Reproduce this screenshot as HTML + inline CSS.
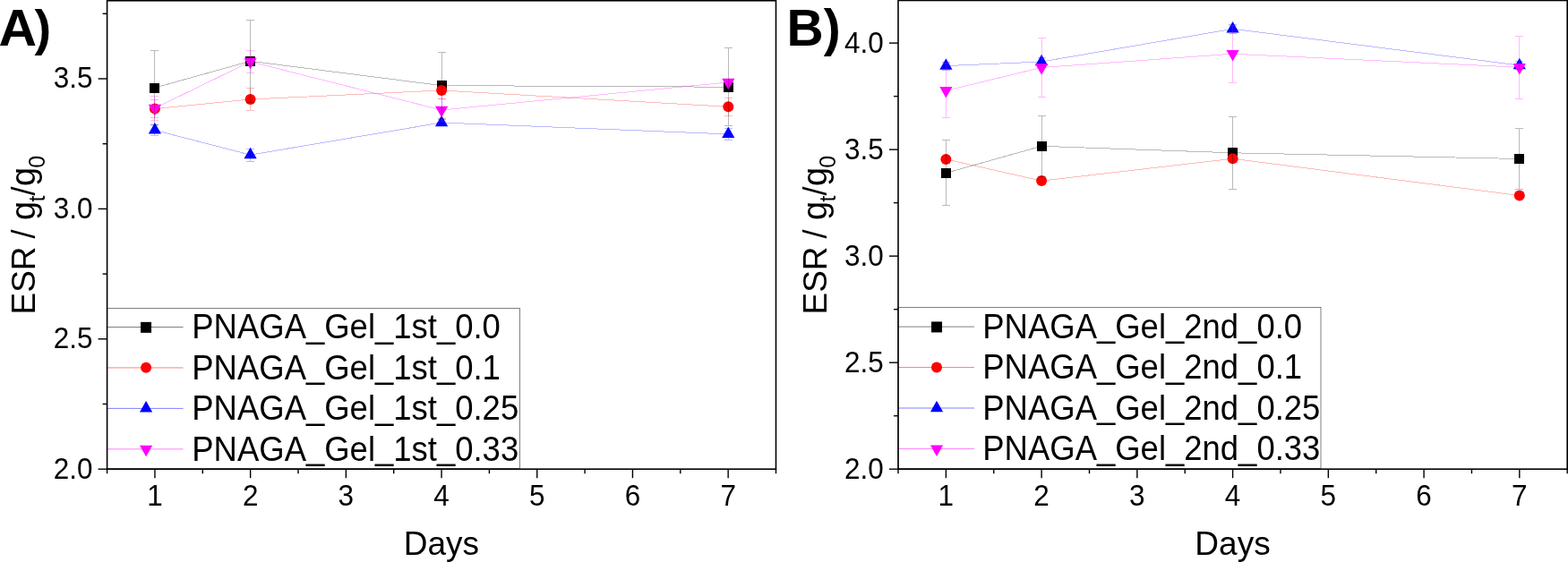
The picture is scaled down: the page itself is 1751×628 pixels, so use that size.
<!DOCTYPE html>
<html><head><meta charset="utf-8"><title>ESR</title>
<style>
html,body{margin:0;padding:0;background:#fff;}
body{width:1751px;height:628px;overflow:hidden;}
svg{display:block;font-family:"Liberation Sans", sans-serif;fill:#000;}
</style></head><body>
<svg width="1751" height="628" viewBox="0 0 1751 628">
<rect width="1751" height="628" fill="#fff"/>
<polyline points="172.9,98.1 279.6,68.3 493.1,95.6 813.3,97.2" fill="none" stroke="#000" stroke-width="1" stroke-opacity="0.27" shape-rendering="crispEdges"/>
<rect x="167.0" y="93.0" width="11" height="11" fill="#000"/>
<rect x="274.0" y="63.0" width="11" height="11" fill="#000"/>
<rect x="488.0" y="90.0" width="11" height="11" fill="#000"/>
<rect x="808.0" y="92.0" width="11" height="11" fill="#000"/>
<polyline points="172.9,121.6 279.6,111.0 493.1,101.0 813.3,119.3" fill="none" stroke="#f00" stroke-width="1" stroke-opacity="0.27" shape-rendering="crispEdges"/>
<circle cx="172.9" cy="121.6" r="6.0" fill="#f00"/>
<circle cx="279.6" cy="111.0" r="6.0" fill="#f00"/>
<circle cx="493.1" cy="101.0" r="6.0" fill="#f00"/>
<circle cx="813.3" cy="119.3" r="6.0" fill="#f00"/>
<polyline points="172.9,145.4 279.6,173.1 493.1,137.0 813.3,149.9" fill="none" stroke="#00f" stroke-width="1" stroke-opacity="0.27" shape-rendering="crispEdges"/>
<path d="M172.9 137.1L180.0 149.6H165.8Z" fill="#00f"/>
<path d="M279.6 164.8L286.7 177.3H272.5Z" fill="#00f"/>
<path d="M493.1 128.7L500.2 141.2H486.0Z" fill="#00f"/>
<path d="M813.3 141.6L820.4 154.1H806.2Z" fill="#00f"/>
<polyline points="172.9,120.9 279.6,68.9 493.1,123.0 813.3,92.0" fill="none" stroke="#f0f" stroke-width="1" stroke-opacity="0.27" shape-rendering="crispEdges"/>
<path d="M172.9 129.2L180.0 116.7H165.8Z" fill="#f0f"/>
<path d="M279.6 77.2L286.7 64.7H272.5Z" fill="#f0f"/>
<path d="M493.1 131.3L500.2 118.8H486.0Z" fill="#f0f"/>
<path d="M813.3 100.3L820.4 87.8H806.2Z" fill="#f0f"/>
<path d="M172.5 56.5V139.5M168.0 56.5h9M168.0 139.5h9" fill="none" stroke="#000" stroke-width="1" stroke-opacity="0.27" shape-rendering="crispEdges"/>
<path d="M279.5 22.5V114.5M275.0 22.5h9M275.0 114.5h9" fill="none" stroke="#000" stroke-width="1" stroke-opacity="0.27" shape-rendering="crispEdges"/>
<path d="M493.5 58.5V132.5M489.0 58.5h9M489.0 132.5h9" fill="none" stroke="#000" stroke-width="1" stroke-opacity="0.27" shape-rendering="crispEdges"/>
<path d="M813.5 53.5V140.5M809.0 53.5h9M809.0 140.5h9" fill="none" stroke="#000" stroke-width="1" stroke-opacity="0.27" shape-rendering="crispEdges"/>
<path d="M172.5 111.5V131.5M168.0 111.5h9M168.0 131.5h9" fill="none" stroke="#f00" stroke-width="1" stroke-opacity="0.27" shape-rendering="crispEdges"/>
<path d="M279.5 98.5V123.5M275.0 98.5h9M275.0 123.5h9" fill="none" stroke="#f00" stroke-width="1" stroke-opacity="0.27" shape-rendering="crispEdges"/>
<path d="M493.5 91.5V110.5M489.0 91.5h9M489.0 110.5h9" fill="none" stroke="#f00" stroke-width="1" stroke-opacity="0.27" shape-rendering="crispEdges"/>
<path d="M813.5 109.5V129.5M809.0 109.5h9M809.0 129.5h9" fill="none" stroke="#f00" stroke-width="1" stroke-opacity="0.27" shape-rendering="crispEdges"/>
<path d="M172.5 139.5V151.5M168.0 139.5h9M168.0 151.5h9" fill="none" stroke="#00f" stroke-width="1" stroke-opacity="0.27" shape-rendering="crispEdges"/>
<path d="M279.5 166.5V180.5M275.0 166.5h9M275.0 180.5h9" fill="none" stroke="#00f" stroke-width="1" stroke-opacity="0.27" shape-rendering="crispEdges"/>
<path d="M493.5 133.5V140.5M489.0 133.5h9M489.0 140.5h9" fill="none" stroke="#00f" stroke-width="1" stroke-opacity="0.27" shape-rendering="crispEdges"/>
<path d="M813.5 143.5V156.5M809.0 143.5h9M809.0 156.5h9" fill="none" stroke="#00f" stroke-width="1" stroke-opacity="0.27" shape-rendering="crispEdges"/>
<path d="M172.5 107.5V134.5M168.0 107.5h9M168.0 134.5h9" fill="none" stroke="#f0f" stroke-width="1" stroke-opacity="0.27" shape-rendering="crispEdges"/>
<path d="M279.5 56.5V81.5M275.0 56.5h9M275.0 81.5h9" fill="none" stroke="#f0f" stroke-width="1" stroke-opacity="0.27" shape-rendering="crispEdges"/>
<path d="M493.5 110.5V135.5M489.0 110.5h9M489.0 135.5h9" fill="none" stroke="#f0f" stroke-width="1" stroke-opacity="0.27" shape-rendering="crispEdges"/>
<path d="M813.5 88.5V95.5M809.0 88.5h9M809.0 95.5h9" fill="none" stroke="#f0f" stroke-width="1" stroke-opacity="0.27" shape-rendering="crispEdges"/>
<rect x="119.6" y="344.5" width="460.9" height="179.0" fill="#fff" stroke="#000" stroke-width="0.5"/>
<line x1="119.6" x2="204.6" y1="365.50" y2="365.50" stroke="#000" stroke-width="0.5"/>
<rect x="157.05" y="359.85" width="12" height="12" fill="#000"/>
<text transform="translate(214.3,378.00) scale(1.002,1.07)" font-size="36.4">PNAGA<tspan dy="-1.1">_</tspan><tspan dy="1.1">Gel</tspan><tspan dy="-1.1">_</tspan><tspan dy="1.1">1st</tspan><tspan dy="-1.1">_</tspan><tspan dy="1.1">0.0</tspan></text>
<line x1="119.6" x2="204.6" y1="410.95" y2="410.95" stroke="#f00" stroke-width="0.5"/>
<circle cx="163.1" cy="410.8" r="6.0" fill="#f00"/>
<text transform="translate(214.3,423.53) scale(1.002,1.07)" font-size="36.4">PNAGA<tspan dy="-1.1">_</tspan><tspan dy="1.1">Gel</tspan><tspan dy="-1.1">_</tspan><tspan dy="1.1">1st</tspan><tspan dy="-1.1">_</tspan><tspan dy="1.1">0.1</tspan></text>
<line x1="119.6" x2="204.6" y1="456.40" y2="456.40" stroke="#00f" stroke-width="0.5"/>
<path d="M163.1 448.1L170.2 460.6H156.0Z" fill="#00f"/>
<text transform="translate(214.3,469.06) scale(1.002,1.07)" font-size="36.4">PNAGA<tspan dy="-1.1">_</tspan><tspan dy="1.1">Gel</tspan><tspan dy="-1.1">_</tspan><tspan dy="1.1">1st</tspan><tspan dy="-1.1">_</tspan><tspan dy="1.1">0.25</tspan></text>
<line x1="119.6" x2="204.6" y1="501.85" y2="501.85" stroke="#f0f" stroke-width="0.5"/>
<path d="M163.1 510.3L170.2 497.8H156.0Z" fill="#f0f"/>
<text transform="translate(214.3,514.59) scale(1.002,1.07)" font-size="36.4">PNAGA<tspan dy="-1.1">_</tspan><tspan dy="1.1">Gel</tspan><tspan dy="-1.1">_</tspan><tspan dy="1.1">1st</tspan><tspan dy="-1.1">_</tspan><tspan dy="1.1">0.33</tspan></text>
<rect x="119.60" y="0.75" width="746.90" height="523.45" fill="none" stroke="#000" stroke-width="1.6"/>
<line x1="172.95" x2="172.95" y1="524.2" y2="534.2" stroke="#000" stroke-width="1.4"/>
<text transform="translate(172.95,565.4) scale(1,1.035)" font-size="31.5" text-anchor="middle">1</text>
<line x1="279.65" x2="279.65" y1="524.2" y2="534.2" stroke="#000" stroke-width="1.4"/>
<text transform="translate(279.65,565.4) scale(1,1.035)" font-size="31.5" text-anchor="middle">2</text>
<line x1="386.35" x2="386.35" y1="524.2" y2="534.2" stroke="#000" stroke-width="1.4"/>
<text transform="translate(386.35,565.4) scale(1,1.035)" font-size="31.5" text-anchor="middle">3</text>
<line x1="493.05" x2="493.05" y1="524.2" y2="534.2" stroke="#000" stroke-width="1.4"/>
<text transform="translate(493.05,565.4) scale(1,1.035)" font-size="31.5" text-anchor="middle">4</text>
<line x1="599.75" x2="599.75" y1="524.2" y2="534.2" stroke="#000" stroke-width="1.4"/>
<text transform="translate(599.75,565.4) scale(1,1.035)" font-size="31.5" text-anchor="middle">5</text>
<line x1="706.45" x2="706.45" y1="524.2" y2="534.2" stroke="#000" stroke-width="1.4"/>
<text transform="translate(706.45,565.4) scale(1,1.035)" font-size="31.5" text-anchor="middle">6</text>
<line x1="813.15" x2="813.15" y1="524.2" y2="534.2" stroke="#000" stroke-width="1.4"/>
<text transform="translate(813.15,565.4) scale(1,1.035)" font-size="31.5" text-anchor="middle">7</text>
<line x1="119.60" x2="119.60" y1="524.2" y2="529.2" stroke="#000" stroke-width="1.4"/>
<line x1="226.30" x2="226.30" y1="524.2" y2="529.2" stroke="#000" stroke-width="1.4"/>
<line x1="333.00" x2="333.00" y1="524.2" y2="529.2" stroke="#000" stroke-width="1.4"/>
<line x1="439.70" x2="439.70" y1="524.2" y2="529.2" stroke="#000" stroke-width="1.4"/>
<line x1="546.40" x2="546.40" y1="524.2" y2="529.2" stroke="#000" stroke-width="1.4"/>
<line x1="653.10" x2="653.10" y1="524.2" y2="529.2" stroke="#000" stroke-width="1.4"/>
<line x1="759.80" x2="759.80" y1="524.2" y2="529.2" stroke="#000" stroke-width="1.4"/>
<line x1="866.50" x2="866.50" y1="524.2" y2="529.2" stroke="#000" stroke-width="1.4"/>
<line x1="109.60" x2="119.60" y1="524.20" y2="524.20" stroke="#000" stroke-width="1.4"/>
<text transform="translate(103.50,534.60) scale(1,1.035)" font-size="31.5" text-anchor="end">2.0</text>
<line x1="109.60" x2="119.60" y1="378.80" y2="378.80" stroke="#000" stroke-width="1.4"/>
<text transform="translate(103.50,389.20) scale(1,1.035)" font-size="31.5" text-anchor="end">2.5</text>
<line x1="109.60" x2="119.60" y1="233.39" y2="233.39" stroke="#000" stroke-width="1.4"/>
<text transform="translate(103.50,243.79) scale(1,1.035)" font-size="31.5" text-anchor="end">3.0</text>
<line x1="109.60" x2="119.60" y1="87.99" y2="87.99" stroke="#000" stroke-width="1.4"/>
<text transform="translate(103.50,98.39) scale(1,1.035)" font-size="31.5" text-anchor="end">3.5</text>
<line x1="114.60" x2="119.60" y1="451.50" y2="451.50" stroke="#000" stroke-width="1.4"/>
<line x1="114.60" x2="119.60" y1="306.10" y2="306.10" stroke="#000" stroke-width="1.4"/>
<line x1="114.60" x2="119.60" y1="160.69" y2="160.69" stroke="#000" stroke-width="1.4"/>
<line x1="114.60" x2="119.60" y1="15.29" y2="15.29" stroke="#000" stroke-width="1.4"/>
<text x="492.9" y="619.7" font-size="37" text-anchor="middle">Days</text>
<text transform="translate(39.1,351.5) rotate(-90)" font-size="36"><tspan x="0" font-size="37">ESR</tspan><tspan x="84.9">/</tspan><tspan x="105.5" font-size="38">g</tspan><tspan x="125.9" font-size="25" dy="10.5">t</tspan><tspan x="132.9" dy="-10.5">/</tspan><tspan x="143.4" font-size="38">g</tspan><tspan x="163.8" font-size="25" dy="10.5">0</tspan></text>
<text transform="translate(-1.4,50.6) scale(1.035,1)" font-size="57" font-weight="bold">A</text>
<text x="38.6" y="49.8" font-size="56" font-weight="bold">)</text>
<polyline points="1056.4,193.3 1163.1,163.3 1376.6,170.8 1696.8,177.5" fill="none" stroke="#000" stroke-width="1" stroke-opacity="0.27" shape-rendering="crispEdges"/>
<rect x="1051.0" y="188.0" width="11" height="11" fill="#000"/>
<rect x="1158.0" y="158.0" width="11" height="11" fill="#000"/>
<rect x="1371.0" y="165.0" width="11" height="11" fill="#000"/>
<rect x="1691.0" y="172.0" width="11" height="11" fill="#000"/>
<polyline points="1056.4,177.9 1163.1,202.1 1376.6,177.3 1696.8,218.5" fill="none" stroke="#f00" stroke-width="1" stroke-opacity="0.27" shape-rendering="crispEdges"/>
<circle cx="1056.4" cy="177.9" r="6.0" fill="#f00"/>
<circle cx="1163.1" cy="202.1" r="6.0" fill="#f00"/>
<circle cx="1376.6" cy="177.3" r="6.0" fill="#f00"/>
<circle cx="1696.8" cy="218.5" r="6.0" fill="#f00"/>
<polyline points="1056.4,73.6 1163.1,69.0 1376.6,32.3 1696.8,73.0" fill="none" stroke="#00f" stroke-width="1" stroke-opacity="0.27" shape-rendering="crispEdges"/>
<path d="M1056.4 65.3L1063.5 77.8H1049.3Z" fill="#00f"/>
<path d="M1163.1 60.7L1170.2 73.2H1156.0Z" fill="#00f"/>
<path d="M1376.6 24.0L1383.7 36.5H1369.5Z" fill="#00f"/>
<path d="M1696.8 64.7L1703.9 77.2H1689.7Z" fill="#00f"/>
<polyline points="1056.4,101.3 1163.1,75.5 1376.6,60.2 1696.8,75.2" fill="none" stroke="#f0f" stroke-width="1" stroke-opacity="0.27" shape-rendering="crispEdges"/>
<path d="M1056.4 109.6L1063.5 97.1H1049.3Z" fill="#f0f"/>
<path d="M1163.1 83.8L1170.2 71.3H1156.0Z" fill="#f0f"/>
<path d="M1376.6 68.5L1383.7 56.0H1369.5Z" fill="#f0f"/>
<path d="M1696.8 83.5L1703.9 71.0H1689.7Z" fill="#f0f"/>
<path d="M1056.5 156.5V229.5M1052.0 156.5h9M1052.0 229.5h9" fill="none" stroke="#000" stroke-width="1" stroke-opacity="0.27" shape-rendering="crispEdges"/>
<path d="M1163.5 129.5V197.5M1159.0 129.5h9M1159.0 197.5h9" fill="none" stroke="#000" stroke-width="1" stroke-opacity="0.27" shape-rendering="crispEdges"/>
<path d="M1376.5 130.5V211.5M1372.0 130.5h9M1372.0 211.5h9" fill="none" stroke="#000" stroke-width="1" stroke-opacity="0.27" shape-rendering="crispEdges"/>
<path d="M1696.5 143.5V211.5M1692.0 143.5h9M1692.0 211.5h9" fill="none" stroke="#000" stroke-width="1" stroke-opacity="0.27" shape-rendering="crispEdges"/>
<path d="M1056.5 69.5V78.5M1052.0 69.5h9M1052.0 78.5h9" fill="none" stroke="#00f" stroke-width="1" stroke-opacity="0.27" shape-rendering="crispEdges"/>
<path d="M1163.5 64.5V73.5M1159.0 64.5h9M1159.0 73.5h9" fill="none" stroke="#00f" stroke-width="1" stroke-opacity="0.27" shape-rendering="crispEdges"/>
<path d="M1376.5 27.5V37.5M1372.0 27.5h9M1372.0 37.5h9" fill="none" stroke="#00f" stroke-width="1" stroke-opacity="0.27" shape-rendering="crispEdges"/>
<path d="M1696.5 68.5V77.5M1692.0 68.5h9M1692.0 77.5h9" fill="none" stroke="#00f" stroke-width="1" stroke-opacity="0.27" shape-rendering="crispEdges"/>
<path d="M1056.5 70.5V131.5M1052.0 70.5h9M1052.0 131.5h9" fill="none" stroke="#f0f" stroke-width="1" stroke-opacity="0.27" shape-rendering="crispEdges"/>
<path d="M1163.5 42.5V108.5M1159.0 42.5h9M1159.0 108.5h9" fill="none" stroke="#f0f" stroke-width="1" stroke-opacity="0.27" shape-rendering="crispEdges"/>
<path d="M1376.5 28.5V92.5M1372.0 28.5h9M1372.0 92.5h9" fill="none" stroke="#f0f" stroke-width="1" stroke-opacity="0.27" shape-rendering="crispEdges"/>
<path d="M1696.5 40.5V110.5M1692.0 40.5h9M1692.0 110.5h9" fill="none" stroke="#f0f" stroke-width="1" stroke-opacity="0.27" shape-rendering="crispEdges"/>
<rect x="1003.0" y="343.6" width="472.0" height="179.9" fill="#fff" stroke="#000" stroke-width="0.5"/>
<line x1="1003.0" x2="1088.0" y1="365.10" y2="365.10" stroke="#000" stroke-width="0.5"/>
<rect x="1040.05" y="359.45" width="12" height="12" fill="#000"/>
<text transform="translate(1097.3,377.60) scale(1.002,1.07)" font-size="36.4">PNAGA<tspan dy="-1.1">_</tspan><tspan dy="1.1">Gel</tspan><tspan dy="-1.1">_</tspan><tspan dy="1.1">2nd</tspan><tspan dy="-1.1">_</tspan><tspan dy="1.1">0.0</tspan></text>
<line x1="1003.0" x2="1088.0" y1="410.55" y2="410.55" stroke="#f00" stroke-width="0.5"/>
<circle cx="1046.0" cy="410.4" r="6.0" fill="#f00"/>
<text transform="translate(1097.3,423.07) scale(1.002,1.07)" font-size="36.4">PNAGA<tspan dy="-1.1">_</tspan><tspan dy="1.1">Gel</tspan><tspan dy="-1.1">_</tspan><tspan dy="1.1">2nd</tspan><tspan dy="-1.1">_</tspan><tspan dy="1.1">0.1</tspan></text>
<line x1="1003.0" x2="1088.0" y1="456.00" y2="456.00" stroke="#00f" stroke-width="0.5"/>
<path d="M1046.0 447.7L1053.1 460.2H1039.0Z" fill="#00f"/>
<text transform="translate(1097.3,468.54) scale(1.002,1.07)" font-size="36.4">PNAGA<tspan dy="-1.1">_</tspan><tspan dy="1.1">Gel</tspan><tspan dy="-1.1">_</tspan><tspan dy="1.1">2nd</tspan><tspan dy="-1.1">_</tspan><tspan dy="1.1">0.25</tspan></text>
<line x1="1003.0" x2="1088.0" y1="501.45" y2="501.45" stroke="#f0f" stroke-width="0.5"/>
<path d="M1046.0 509.9L1053.1 497.4H1039.0Z" fill="#f0f"/>
<text transform="translate(1097.3,514.01) scale(1.002,1.07)" font-size="36.4">PNAGA<tspan dy="-1.1">_</tspan><tspan dy="1.1">Gel</tspan><tspan dy="-1.1">_</tspan><tspan dy="1.1">2nd</tspan><tspan dy="-1.1">_</tspan><tspan dy="1.1">0.33</tspan></text>
<rect x="1003.00" y="0.50" width="747.20" height="523.70" fill="none" stroke="#000" stroke-width="1.6"/>
<line x1="1056.37" x2="1056.37" y1="524.2" y2="534.2" stroke="#000" stroke-width="1.4"/>
<text transform="translate(1056.37,565.4) scale(1,1.035)" font-size="31.5" text-anchor="middle">1</text>
<line x1="1163.11" x2="1163.11" y1="524.2" y2="534.2" stroke="#000" stroke-width="1.4"/>
<text transform="translate(1163.11,565.4) scale(1,1.035)" font-size="31.5" text-anchor="middle">2</text>
<line x1="1269.86" x2="1269.86" y1="524.2" y2="534.2" stroke="#000" stroke-width="1.4"/>
<text transform="translate(1269.86,565.4) scale(1,1.035)" font-size="31.5" text-anchor="middle">3</text>
<line x1="1376.60" x2="1376.60" y1="524.2" y2="534.2" stroke="#000" stroke-width="1.4"/>
<text transform="translate(1376.60,565.4) scale(1,1.035)" font-size="31.5" text-anchor="middle">4</text>
<line x1="1483.34" x2="1483.34" y1="524.2" y2="534.2" stroke="#000" stroke-width="1.4"/>
<text transform="translate(1483.34,565.4) scale(1,1.035)" font-size="31.5" text-anchor="middle">5</text>
<line x1="1590.09" x2="1590.09" y1="524.2" y2="534.2" stroke="#000" stroke-width="1.4"/>
<text transform="translate(1590.09,565.4) scale(1,1.035)" font-size="31.5" text-anchor="middle">6</text>
<line x1="1696.83" x2="1696.83" y1="524.2" y2="534.2" stroke="#000" stroke-width="1.4"/>
<text transform="translate(1696.83,565.4) scale(1,1.035)" font-size="31.5" text-anchor="middle">7</text>
<line x1="1003.00" x2="1003.00" y1="524.2" y2="529.2" stroke="#000" stroke-width="1.4"/>
<line x1="1109.74" x2="1109.74" y1="524.2" y2="529.2" stroke="#000" stroke-width="1.4"/>
<line x1="1216.49" x2="1216.49" y1="524.2" y2="529.2" stroke="#000" stroke-width="1.4"/>
<line x1="1323.23" x2="1323.23" y1="524.2" y2="529.2" stroke="#000" stroke-width="1.4"/>
<line x1="1429.97" x2="1429.97" y1="524.2" y2="529.2" stroke="#000" stroke-width="1.4"/>
<line x1="1536.71" x2="1536.71" y1="524.2" y2="529.2" stroke="#000" stroke-width="1.4"/>
<line x1="1643.46" x2="1643.46" y1="524.2" y2="529.2" stroke="#000" stroke-width="1.4"/>
<line x1="1750.20" x2="1750.20" y1="524.2" y2="529.2" stroke="#000" stroke-width="1.4"/>
<line x1="993.00" x2="1003.00" y1="524.20" y2="524.20" stroke="#000" stroke-width="1.4"/>
<text transform="translate(986.90,534.60) scale(1,1.035)" font-size="31.5" text-anchor="end">2.0</text>
<line x1="993.00" x2="1003.00" y1="405.18" y2="405.18" stroke="#000" stroke-width="1.4"/>
<text transform="translate(986.90,415.58) scale(1,1.035)" font-size="31.5" text-anchor="end">2.5</text>
<line x1="993.00" x2="1003.00" y1="286.15" y2="286.15" stroke="#000" stroke-width="1.4"/>
<text transform="translate(986.90,296.55) scale(1,1.035)" font-size="31.5" text-anchor="end">3.0</text>
<line x1="993.00" x2="1003.00" y1="167.13" y2="167.13" stroke="#000" stroke-width="1.4"/>
<text transform="translate(986.90,177.53) scale(1,1.035)" font-size="31.5" text-anchor="end">3.5</text>
<line x1="993.00" x2="1003.00" y1="48.11" y2="48.11" stroke="#000" stroke-width="1.4"/>
<text transform="translate(986.90,58.51) scale(1,1.035)" font-size="31.5" text-anchor="end">4.0</text>
<line x1="998.00" x2="1003.00" y1="464.69" y2="464.69" stroke="#000" stroke-width="1.4"/>
<line x1="998.00" x2="1003.00" y1="345.67" y2="345.67" stroke="#000" stroke-width="1.4"/>
<line x1="998.00" x2="1003.00" y1="226.64" y2="226.64" stroke="#000" stroke-width="1.4"/>
<line x1="998.00" x2="1003.00" y1="107.62" y2="107.62" stroke="#000" stroke-width="1.4"/>
<text x="1376.5" y="619.7" font-size="37" text-anchor="middle">Days</text>
<text transform="translate(922.5,351.5) rotate(-90)" font-size="36"><tspan x="0" font-size="37">ESR</tspan><tspan x="84.9">/</tspan><tspan x="105.5" font-size="38">g</tspan><tspan x="125.9" font-size="25" dy="10.5">t</tspan><tspan x="132.9" dy="-10.5">/</tspan><tspan x="143.4" font-size="38">g</tspan><tspan x="163.8" font-size="25" dy="10.5">0</tspan></text>
<text x="878.6" y="50.6" font-size="57" font-weight="bold">B)</text>
</svg>
</body></html>
